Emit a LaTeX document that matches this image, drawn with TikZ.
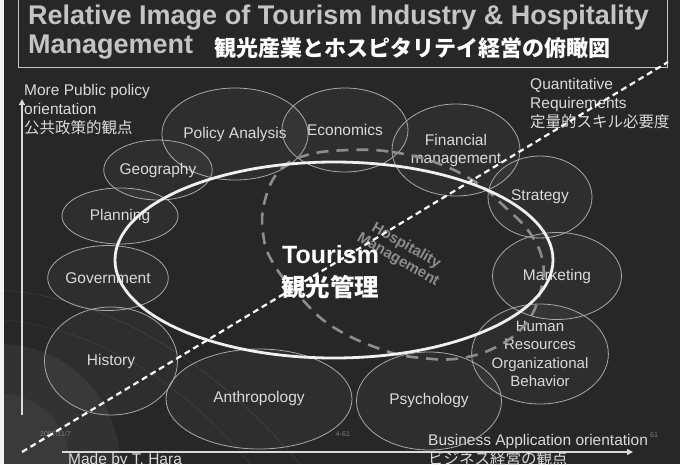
\documentclass[tikz,border=0pt]{standalone}
\usepackage{fontspec}
\setmainfont{Liberation Sans}
\newfontfamily\jp{Noto Sans CJK JP}
\usetikzlibrary{arrows.meta,shapes.geometric}
\definecolor{bg}{HTML}{272727}
\definecolor{bubline}{HTML}{A8A8A8}
\definecolor{lbltxt}{HTML}{DADADA}
\definecolor{titletxt}{HTML}{C4C4C4}
\definecolor{hospgray}{HTML}{8C8C8C}
\begin{document}
\begin{tikzpicture}[x=1pt,y=-1pt,
  bub/.style={ellipse, draw=bubline, line width=0.8pt, fill=white, fill opacity=0.035, text opacity=1,
              inner sep=0pt, text=lbltxt, font=\fontsize{15.5}{18}\selectfont, align=center},
  annot/.style={text=lbltxt, font=\fontsize{15.5}{19}\selectfont, align=left, inner sep=0pt},
  axis/.style={draw=lbltxt, line width=1.2pt, -{Triangle[width=6pt,length=6pt]}},
  tiny/.style={text=gray, font=\fontsize{7}{8}\selectfont, inner sep=0pt}]
\useasboundingbox (0,0) rectangle (680,464);
\fill[bg] (0,0) rectangle (680,464);
\fill[white, opacity=0.05] (0,464) circle [radius=120pt];
\fill[white, opacity=0.04] (0,464) circle [radius=70pt];
\fill[white!90!gray] (0,0) rectangle (4,464);
% faint background arcs
\draw[white, opacity=0.10, line width=0.6pt] (4,290) .. controls (120,300) and (220,370) .. (300,464);
\draw[white, opacity=0.08, line width=0.6pt] (4,320) .. controls (110,330) and (200,400) .. (250,464);

% title
\node[draw=titletxt, line width=1.4pt, minimum width=649pt, minimum height=68pt, anchor=north west, inner sep=0pt] (titlebox) at (18,-1) {};
\node[anchor=west, text=titletxt, font=\bfseries\fontsize{27}{30}\selectfont, inner sep=0pt] (t1) at (28,18) {Relative Image of Tourism Industry \& Hospitality};
\node[anchor=west, text=titletxt, font=\bfseries\fontsize{27}{30}\selectfont, inner sep=0pt] (t2) at (28,47) {Management};
\node[anchor=west, text=white, font=\jp\bfseries\fontsize{22}{25}\selectfont, inner sep=0pt] (t3) at (214,48) {観光産業とホスピタリテイ経営の俯瞰図};

% axes
\coordinate (v0) at (22,415); \coordinate (v1) at (22,99);
\draw[axis] (v0) -- (v1);
\coordinate (h0) at (62,452); \coordinate (h1) at (633,452);
\draw[axis] (h0) -- (h1);

% axis annotations
\node[annot, anchor=north west] (pub) at (24,84) {More Public policy\\orientation\\{\jp 公共政策的観点}};
\node[annot, anchor=north west] (quant) at (530,78) {Quantitative\\Requirements\\{\jp 定量的スキル必要度}};
\node[annot, anchor=north west] (bus) at (428,434) {Business Application orientation\\{\jp ビジネス経営の観点}};
\node[annot, anchor=north west] (made) at (68,453) {Made by T. Hara};
\node[tiny, anchor=west] (date) at (40,434) {2007/11/7};
\node[tiny] (page) at (343,434) {4-61};
\node[tiny] (page2) at (654,435) {61};

% small discipline ellipses
\node[bub, minimum width=140pt, minimum height=92pt] (pol) at (235,134) {Policy Analysis};
\node[bub, minimum width=126pt, minimum height=84pt] (eco) at (345,130) {Economics};
\node[bub, minimum width=125pt, minimum height=92pt] (fin) at (456,150) {Financial\\management};
\node[bub, minimum width=104pt, minimum height=82pt] (str) at (540,197) {Strategy};
\node[bub, minimum width=100pt, minimum height=60pt] (geo) at (158,170) {Geography};
\node[bub, minimum width=116pt, minimum height=56pt] (pla) at (120,216) {Planning};
\node[bub, minimum width=117pt, minimum height=65pt] (gov) at (108,278) {Government};
\node[bub, minimum width=133pt, minimum height=108pt] (his) at (111,361) {History};
\node[bub, minimum width=186pt, minimum height=100pt] (ant) at (259,399) {\raisebox{5pt}{Anthropology}};
\node[bub, minimum width=145pt, minimum height=98pt] (psy) at (429,401) {\raisebox{5pt}{Psychology}};
\node[bub, minimum width=129pt, minimum height=87pt] (mar) at (557,276) {Marketing};
\node[bub, minimum width=115pt, minimum height=100pt, font=\fontsize{15}{18.5}\selectfont] (hr) at (540,354) {Human\\Resources\\Organizational\\Behavior};

% hospitality management dashed outline
\draw[hospgray, line width=2.6pt, dash pattern=on 12pt off 8pt]
  plot[smooth cycle, tension=0.7] coordinates {
    (350,150) (392,152) (437,163) (477,183) (505,207) (530,233) (543,263) (540,293)
    (527,322) (500,345) (462,358) (422,358) (383,350) (333,327) (300,297) (273,263)
    (263,233) (265,200) (280,170) (307,155)};
\node[text=hospgray, font=\bfseries\fontsize{15}{16}\selectfont, rotate=-30, align=center, inner sep=0pt] (hosp) at (402,253) {Hospitality\\Management};

% tourism ellipse
\coordinate (tc) at (334,260);
\draw[white!88!gray, line width=2.8pt] (tc) ellipse [x radius=219pt, y radius=98pt];
\node[anchor=west, text=white, font=\bfseries\fontsize{25}{27}\selectfont, inner sep=0pt] (tour) at (282,255) {Tourism};
\node[anchor=west, text=white, font=\jp\bfseries\fontsize{24.5}{27}\selectfont, inner sep=0pt] (tourjp) at (281,287) {観光管理};

% diagonal dashed line
\coordinate (d0) at (22,452); \coordinate (d1) at (668,62);
\draw[white, line width=2.2pt, dash pattern=on 6pt off 4pt] (d0) -- (d1);
\end{tikzpicture}
\end{document}
